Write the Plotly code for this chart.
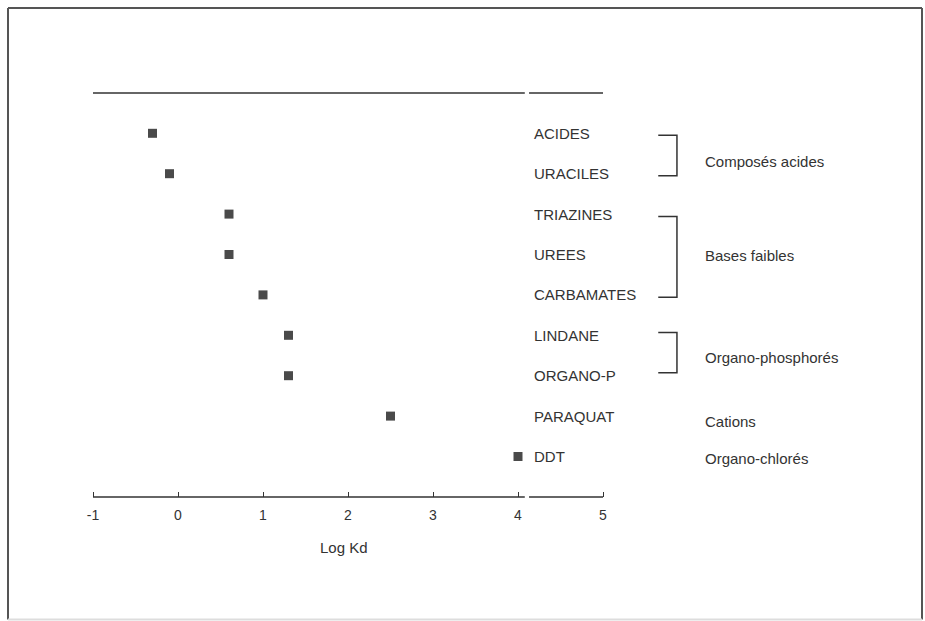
import plotly.graph_objects as go

# ---------------- data ----------------
compounds = ["ACIDES", "URACILES", "TRIAZINES", "UREES", "CARBAMATES",
             "LINDANE", "ORGANO-P", "PARAQUAT", "DDT"]
log_kd = [-0.3, -0.1, 0.6, 0.6, 1.0, 1.3, 1.3, 2.5, 4.0]

group_names = ["Composés acides", "Bases faibles", "Organo-phosphorés",
               "Cations", "Organo-chlorés"]
group_first = [0, 2, 5, 7, 8]   # index of first compound in group
group_last = [1, 4, 6, 7, 8]    # index of last compound in group

tick_values = [-1, 0, 1, 2, 3, 4, 5]
tick_labels = ["-1", "0", "1", "2", "3", "4", "5"]
x_title = "Log Kd"

# ---------------- layout helpers ----------------
W, H = 925, 621
PX_PER_UNIT = 85.0
X0_PX = 178.0           # pixel of log Kd = 0
ROW0_PX = 133.3         # pixel of first row
ROW_PX = 40.4           # row spacing in pixels

x_range = [-X0_PX / PX_PER_UNIT, (W - X0_PX) / PX_PER_UNIT]
y_range = [(H - ROW0_PX) / ROW_PX, -ROW0_PX / ROW_PX]  # reversed

AXIS_ROW = 9.0          # row coordinate of bottom axis line
TOP_ROW = -1.0          # row coordinate of top line
BREAK = (4.08, 4.13)    # axis break
LABEL_X = 4.17
BRACKET_X0, BRACKET_X1 = 5.65, 5.87
GROUP_X = 6.18
bracket_shift = [0.05, 0.06, -0.07, 0, 0]
group_label_shift = [0.19, 0.03, 0.06, 0.14, 0.06]

ink = "#333333"
font_family = "Liberation Sans, Arial, Helvetica, sans-serif"

rows = list(range(len(compounds)))

fig = go.Figure()
fig.add_trace(go.Scatter(
    x=log_kd, y=rows, mode="markers",
    marker=dict(symbol="square", size=9, color="#4a4a4a",
                line=dict(width=0)),
    hoverinfo="text", text=compounds, showlegend=False,
    cliponaxis=False,
))

shapes = []
ann = []

# top line and bottom axis line, each with a break
for yrow in (TOP_ROW, AXIS_ROW):
    for xa, xb in ((tick_values[0], BREAK[0]), (BREAK[1], tick_values[-1])):
        shapes.append(dict(type="line", xref="x", yref="y",
                           x0=xa, x1=xb, y0=yrow, y1=yrow,
                           line=dict(color=ink, width=1.5)))

# compound labels
for name, r in zip(compounds, rows):
    ann.append(dict(x=LABEL_X, y=r, xref="x", yref="y", text=name,
                    showarrow=False, xanchor="left", yanchor="middle",
                    font=dict(size=15, color=ink, family=font_family)))

# brackets and group labels
for i, (g, a, b) in enumerate(zip(group_names, group_first, group_last)):
    if b > a:
        ya = a + bracket_shift[i]
        yb = b + bracket_shift[i]
        path = (f"M {BRACKET_X0},{ya} L {BRACKET_X1},{ya} "
                f"L {BRACKET_X1},{yb} L {BRACKET_X0},{yb}")
        shapes.append(dict(type="path", xref="x", yref="y", path=path,
                           line=dict(color=ink, width=1.5)))
    ann.append(dict(x=GROUP_X, y=(a + b) / 2 + group_label_shift[i],
                    xref="x", yref="y", text=g, showarrow=False,
                    xanchor="left", yanchor="middle",
                    font=dict(size=15, color=ink, family=font_family)))

# axis title
ann.append(dict(x=1.95, y=AXIS_ROW + 1.24, xref="x", yref="y", text=x_title,
                showarrow=False, xanchor="center", yanchor="middle",
                font=dict(size=15, color=ink, family=font_family)))

# outer frame
fx0, fx1 = 8 / W, 922 / W
fy_top, fy_bot = (H - 8) / H, (H - 619.5) / H
for (x0, y0, x1, y1, col) in [
    (fx0, fy_bot, fx0, fy_top, "#555555"),
    (fx0, fy_top, fx1, fy_top, "#555555"),
    (fx1, fy_top, fx1, fy_bot, "#555555"),
    (fx0, fy_bot, fx1, fy_bot, "#dddddd"),
]:
    shapes.append(dict(type="line", xref="paper", yref="paper",
                       x0=x0, y0=y0, x1=x1, y1=y1,
                       line=dict(color=col, width=2)))

axis_pos = (H - (ROW0_PX + AXIS_ROW * ROW_PX)) / H

fig.update_layout(
    width=W, height=H,
    margin=dict(l=0, r=0, t=0, b=0),
    paper_bgcolor="white", plot_bgcolor="white",
    xaxis=dict(range=x_range, tickvals=tick_values, ticktext=tick_labels,
               ticks="inside", ticklen=5, tickwidth=1.2, tickcolor=ink,
               showline=False, showgrid=False, zeroline=False,
               anchor="free", position=axis_pos, ticklabelstandoff=8,
               tickfont=dict(size=14, color=ink, family=font_family)),
    yaxis=dict(range=y_range, visible=False, showgrid=False,
               zeroline=False),
    shapes=shapes, annotations=ann,
    font=dict(family=font_family, color=ink),
)

fig.write_html(
    "out.html",
    config={"displayModeBar": False},
    post_script="document.body.style.margin='0';"
                "document.body.style.overflow='hidden';",
)
